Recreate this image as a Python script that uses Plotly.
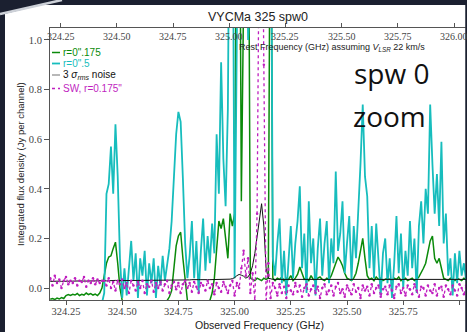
import numpy as np
import plotly.graph_objects as go

# ---------------- data ----------------
f_start = 324.18          # GHz, first channel (observed)
f_step = 0.01             # GHz per channel
v_lsr = 22.0              # km/s
c_kms = 299792.458

cyan_r05 = [
    -0.08, -0.09, -0.07, -0.1, -0.08, -0.09, -0.07, -0.08, -0.1, -0.09,
    -0.08, -0.07, -0.09, -0.08, -0.1, -0.07, -0.08, -0.09, -0.07, -0.08,
    -0.09, -0.08, -0.07, -0.06, -0.02, 0.38, 0.42, 0.57, 0.38, 0.66,
    0.45, 0.12, -0.04, 0.08, -0.03, 0.1, 0.19, 0.03, 0.14, -0.04,
    0.12, 0.05, 0.15, -0.03, 0.1, 0.02, 0.12, -0.04, 0.09, 0.01,
    0.13, 0.03, 0.1, 0.16, 0.27, 0.46, 0.62, 0.71, 0.67, 0.44,
    0.18, 0.04, 0.13, 0.27, 0.04, 0.19, -0.02, 0.15, 0.28, 0.07,
    0.21, 0.1, 0.26, 0.14, 0.62, 0.38, 0.91, 0.52, 0.33, 0.72,
    2.0, 2.0, 0.04, 2.0, 2.0, 2.0, 2.0, 2.0, 1.0, 2.0,
    2.0, 2.0, 2.0, 2.0, 2.0, 2.0, 2.0, 2.0, 2.0, 0.12,
    0.05, 0.18, 0.28, 0.02, 0.15, -0.03, 0.12, 0.25, 0.04, 0.18,
    0.27, 0.41, 0.08, 0.22, -0.02, 0.35, 0.1, 0.2, -0.03, 0.16,
    0.28, 0.05, 0.18, 0.27, 0.02, 0.2, 0.1, 0.47, 0.15, 0.22,
    0.35, 0.06, 0.18, 0.29, 0.03, 0.25, 0.12, 0.3, 0.5, 0.74,
    0.45, 0.37, 0.08, 0.25, 0.04, 0.26, 0.12, -0.03, 0.14, 0.2,
    0.02, 0.12, -0.04, 0.1, 0.29, 0.06, 0.22, 0.0, 0.15, 0.05,
    0.27, 0.08, 0.2, -0.02, 0.25, 0.35, 0.18, 0.4, 0.3, 0.74,
    0.5, 0.3, 0.46, 0.25, 0.59, 0.18, 0.3, 0.05, 0.12, -0.03,
    0.14, 0.02, 0.15, 0.05, 0.1, 0.03,
]

green_r0175 = [
    -0.045, -0.042, -0.046, -0.04, -0.044, -0.038, -0.042, -0.03, -0.026, -0.03,
    -0.025, -0.028, -0.022, -0.03, -0.025, -0.028, -0.02, -0.026, -0.022, -0.028,
    -0.024, -0.03, -0.02, 0.0, 0.05, 0.1, 0.125, 0.13, 0.16, 0.185,
    0.1, 0.0, -0.05, -0.06, -0.06, -0.06, -0.06, -0.06, -0.06, -0.06,
    -0.06, -0.06, -0.06, -0.06, -0.06, -0.06, -0.06, -0.06, -0.06, -0.06,
    -0.06, -0.06, -0.05, -0.035, -0.01, 0.07, 0.17, 0.21, 0.225, 0.12,
    0.02, -0.05, -0.06, -0.06, -0.06, -0.06, -0.06, -0.06, -0.06, -0.06,
    -0.06, -0.05, -0.02, 0.04, 0.15, 0.27, 0.24, 0.28, 0.2, 0.12,
    0.3, 0.25, 0.3, 1.8, 2.2, 0.35, 1.6, 2.0, 2.0, 0.04,
    0.035, 0.03, 0.04, 0.035, 0.03, 0.04, 0.035, 0.04, 2.0, 0.04,
    0.03, 0.04, 0.035, 0.045, 0.03, 0.04, 0.035, 0.05, 0.03, 0.04,
    0.055, 0.085, 0.06, 0.035, 0.04, 0.03, 0.05, 0.035, 0.03, 0.04,
    0.045, 0.035, 0.03, 0.04, 0.035, 0.05, 0.075, 0.1, 0.125, 0.11,
    0.09, 0.06, 0.04, 0.035, 0.03, 0.04, 0.06, 0.1, 0.16, 0.2,
    0.12, 0.05, 0.035, 0.04, 0.03, 0.045, 0.035, 0.04, 0.03, 0.035,
    0.04, 0.035, 0.03, 0.04, 0.035, 0.045, 0.03, 0.035, 0.04, 0.03,
    0.035, 0.04, 0.03, 0.035, 0.045, 0.06, 0.08, 0.1, 0.15, 0.19,
    0.21, 0.12, 0.1, 0.12, 0.08, 0.04, 0.035, 0.03, 0.04, 0.035,
    0.03, 0.04, 0.035, 0.03, 0.04, 0.035,
]

noise_3sigma = [
    0.027, 0.028, 0.027, 0.028, 0.028, 0.027, 0.028, 0.028, 0.029, 0.028,
    0.028, 0.029, 0.028, 0.029, 0.029, 0.028, 0.029, 0.029, 0.03, 0.029,
    0.029, 0.03, 0.029, 0.03, 0.03, 0.029, 0.03, 0.03, 0.03, 0.031,
    0.03, 0.03, 0.031, 0.03, 0.031, 0.031, 0.03, 0.031, 0.031, 0.031,
    0.031, 0.032, 0.031, 0.031, 0.032, 0.032, 0.031, 0.032, 0.032, 0.032,
    0.032, 0.032, 0.033, 0.032, 0.032, 0.033, 0.033, 0.032, 0.033, 0.033,
    0.033, 0.033, 0.033, 0.034, 0.033, 0.033, 0.034, 0.034, 0.033, 0.034,
    0.034, 0.034, 0.034, 0.035, 0.034, 0.035, 0.035, 0.034, 0.035, 0.036,
    0.036, 0.038, 0.042, 0.05, 0.055, 0.052, 0.048, 0.04, 0.045, 0.06,
    0.09, 0.14, 0.2, 0.27, 0.34, 0.25, 0.08, 0.04, 0.036, 0.035,
    0.035, 0.035, 0.034, 0.035, 0.035, 0.034, 0.035, 0.034, 0.034, 0.035,
    0.035, 0.034, 0.035, 0.035, 0.034, 0.035, 0.035, 0.034, 0.035, 0.034,
    0.034, 0.035, 0.035, 0.034, 0.035, 0.035, 0.034, 0.035, 0.034, 0.035,
    0.035, 0.034, 0.035, 0.035, 0.034, 0.035, 0.035, 0.034, 0.035, 0.035,
    0.034, 0.035, 0.035, 0.034, 0.035, 0.034, 0.035, 0.035, 0.034, 0.035,
    0.035, 0.034, 0.035, 0.035, 0.034, 0.035, 0.035, 0.034, 0.035, 0.035,
    0.034, 0.035, 0.035, 0.034, 0.035, 0.035, 0.034, 0.035, 0.035, 0.034,
    0.035, 0.035, 0.034, 0.035, 0.035, 0.034, 0.035, 0.035, 0.034, 0.035,
    0.035, 0.034, 0.035, 0.035, 0.034, 0.035,
]

sw_r0175 = [
    0.04, 0.01, 0.05, 0.02, 0.035, 0.0, 0.03, 0.045, 0.015, 0.03,
    0.02, 0.04, 0.01, 0.03, 0.025, 0.045, 0.005, 0.03, 0.02, 0.04,
    0.015, 0.035, 0.02, 0.03, 0.03, 0.01, 0.04, 0.0, 0.025, -0.01,
    0.03, 0.015, 0.035, 0.0, 0.02, -0.02, 0.03, 0.01, -0.01, 0.025,
    0.0, 0.03, -0.02, 0.015, 0.005, 0.03, -0.015, 0.02, 0.0, 0.025,
    -0.01, 0.015, 0.03, -0.02, 0.01, 0.025, -0.005, 0.02, -0.02, 0.015,
    0.03, 0.0, 0.02, -0.015, 0.025, 0.005, -0.02, 0.02, 0.01, -0.01,
    0.03, 0.0, 0.015, -0.025, 0.02, 0.0, -0.015, 0.025, 0.005, -0.02,
    0.01, 0.03, -0.03, 0.02, 0.0, 0.08, 0.15, 0.05, 0.12, -0.02,
    0.06, -0.05, 0.3, 1.5, 2.0, 0.9, -0.06, 0.1, -0.04, 0.02,
    0.0, -0.03, 0.015, -0.02, 0.005, -0.04, 0.01, -0.01, -0.025, 0.02,
    -0.015, 0.01, -0.035, 0.0, 0.015, -0.03, -0.005, 0.01, -0.02, 0.005,
    -0.04, 0.0, 0.015, -0.025, -0.01, 0.01, -0.03, 0.005, 0.02, -0.02,
    -0.005, -0.035, 0.01, -0.01, -0.025, 0.015, -0.015, 0.0, -0.04, 0.01,
    -0.01, 0.005, -0.03, 0.015, -0.02, 0.0, 0.01, -0.035, -0.005, 0.005,
    -0.025, 0.01, -0.01, -0.04, 0.005, 0.015, -0.02, 0.0, -0.03, 0.01,
    -0.005, -0.025, 0.015, -0.01, -0.035, 0.005, 0.0, -0.03, 0.01, -0.01,
    -0.02, 0.015, -0.03, 0.0, 0.005, -0.035, 0.01, -0.005, -0.025, 0.01,
    -0.01, -0.03, 0.015, 0.0, -0.025, 0.01,
]

tick_vals = [324.25, 324.50, 324.75, 325.00, 325.25, 325.50, 325.75, 326.00]
tick_text = ["324.25", "324.50", "324.75", "325.00", "325.25", "325.50", "325.75", "326.00"]
y_tick_vals = [0.0, 0.2, 0.4, 0.6, 0.8, 1.0]
y_tick_text = ["0.0", "0.2", "0.4", "0.6", "0.8", "1.0"]

legend_labels = ["r=0\".175", "r=0\".5", "3 <i>σ<sub>rms</sub></i> noise", "SW, r=0.175\""]

freq = f_start + f_step * np.arange(len(cyan_r05))

# ---------------- layout geometry ----------------
W, H = 467, 332
L, R, T, B = 50, 0, 28, 32
PW, PH = W - L - R, H - T - B

def px(x):
    return (x - L) / PW

def py(y):
    return (H - B - y) / PH

x_range = [324.1788, 326.0338]
y_range = [-0.048, 1.048]
doppler = 1.0 + v_lsr / c_kms
x2_range = [x_range[0] * doppler, x_range[1] * doppler]

GREEN = "#0a8a0a"
CYAN = "#17bdbd"
MAG = "#bf1fbf"
GRAY = "#888888"
BG = "#1b2030"

fig = go.Figure()
fig.add_trace(go.Scatter(x=freq, y=green_r0175, mode="lines",
                         line=dict(color=GREEN, width=1.5), showlegend=False))
fig.add_trace(go.Scatter(x=freq, y=cyan_r05, mode="lines",
                         line=dict(color=CYAN, width=1.8), showlegend=False))
fig.add_trace(go.Scatter(x=freq, y=noise_3sigma, mode="lines",
                         line=dict(color="#111111", width=1), showlegend=False))
fig.add_trace(go.Scatter(x=freq, y=sw_r0175, mode="lines+markers",
                         line=dict(color=MAG, width=1.3, dash="dot"),
                         marker=dict(color=MAG, size=2.5), showlegend=False))
fig.add_trace(go.Scatter(x=[x2_range[0]], y=[None], xaxis="x2", mode="lines",
                         showlegend=False, hoverinfo="skip"))

serif = "Liberation Serif, DejaVu Serif, serif"
sans = "Liberation Sans, Arial, sans-serif"

fig.update_layout(
    width=W, height=H,
    margin=dict(l=L, r=R, t=T, b=B, pad=0),
    paper_bgcolor=BG,
    plot_bgcolor="rgba(0,0,0,0)",
    showlegend=False,
    xaxis=dict(range=x_range, tickvals=tick_vals, ticktext=tick_text,
               showgrid=False, zeroline=False, showline=True, linecolor="#555555",
               linewidth=1, ticks="outside", ticklen=4, tickcolor="#555555",
               ticklabelstandoff=-3,
               tickfont=dict(family=serif, size=10.5, color="#444444")),
    xaxis2=dict(range=x2_range, overlaying="x", side="top", anchor="y",
                tickvals=tick_vals, showticklabels=False,
                showgrid=False, zeroline=False, showline=True, linecolor="#555555",
                linewidth=1, ticks="outside", ticklen=4, tickcolor="#555555"),
    yaxis=dict(range=y_range, tickvals=y_tick_vals, ticktext=y_tick_text,
               showgrid=False, zeroline=False, showline=True, linecolor="#555555",
               linewidth=1, ticks="outside", ticklen=5, tickcolor="#555555",
               tickfont=dict(family=serif, size=10.5, color="#444444")),
)

shapes = []
# white slide card
shapes.append(dict(type="rect", xref="paper", yref="paper", layer="below",
                   x0=px(5), x1=px(465.5), y0=py(332), y1=py(5),
                   fillcolor="white", line=dict(width=0)))
# dark right strip over the plot edge
shapes.append(dict(type="rect", xref="paper", yref="paper", layer="above",
                   x0=px(465.5), x1=px(468), y0=py(333), y1=py(0),
                   fillcolor=BG, line=dict(width=0)))
# top-left corner streak
shapes.append(dict(type="path", xref="paper", yref="paper", layer="above",
                   path=f"M {px(0)} {py(0)} L {px(62)} {py(0)} L {px(0)} {py(15)} Z",
                   fillcolor=BG, line=dict(width=0)))
shapes.append(dict(type="line", xref="paper", yref="paper", layer="above",
                   x0=px(0), y0=py(14), x1=px(62), y1=py(0),
                   line=dict(color="#cdd1d8", width=2.5)))

# manual legend
leg_rows = [(52.5, GREEN, "solid", 1.5), (63.5, CYAN, "solid", 1.8),
            (75, GRAY, "solid", 1.2), (88.5, MAG, "dot", 1.5)]
leg_text_colors = [GREEN, CYAN, "#111111", MAG]
annotations = []
for (yy, col, dash, lw), lab, tcol in zip(leg_rows, legend_labels, leg_text_colors):
    shapes.append(dict(type="line", xref="paper", yref="paper", layer="above",
                       x0=px(52), x1=px(60), y0=py(yy), y1=py(yy),
                       line=dict(color=col, width=lw, dash=dash)))
    annotations.append(dict(xref="paper", yref="paper", x=px(61), y=py(yy),
                            xanchor="left", yanchor="middle", showarrow=False,
                            text=lab, font=dict(family=sans, size=10, color=tcol)))

# top (rest-frequency) tick labels, drawn inside the axes
for tv, tt in zip(tick_vals, tick_text):
    annotations.append(dict(xref="x2", yref="paper", x=tv, y=py(36),
                            xanchor="center", yanchor="middle", showarrow=False,
                            text=tt, font=dict(family=serif, size=10, color="#444444")))

annotations += [
    dict(xref="paper", yref="paper", x=px(258), y=py(17), showarrow=False,
         xanchor="center", yanchor="middle", text="VYCMa 325 spw0",
         font=dict(family=sans, size=12.5, color="#222222")),
    dict(xref="paper", yref="paper", x=px(237), y=py(48), showarrow=False,
         xanchor="left", yanchor="middle",
         text="Rest Frequency (GHz) assuming <i>V</i><sub><i>LSR</i></sub> 22 km/s",
         font=dict(family=sans, size=9, color="#222222")),
    dict(xref="paper", yref="paper", x=px(259), y=py(325), showarrow=False,
         xanchor="center", yanchor="middle", text="Observed Frequency (GHz)",
         font=dict(family=sans, size=10.5, color="#222222")),
    dict(xref="paper", yref="paper", x=px(20), y=py(164), showarrow=False,
         xanchor="center", yanchor="middle", textangle=-90,
         text="Integrated flux density (Jy per channel)",
         font=dict(family=sans, size=9.5, color="#222222")),
    dict(xref="paper", yref="paper", x=px(352), y=py(73), showarrow=False,
         xanchor="left", yanchor="middle", text="spw 0",
         font=dict(family="Open Sans", size=28, color="#111111")),
    dict(xref="paper", yref="paper", x=px(351), y=py(116), showarrow=False,
         xanchor="left", yanchor="middle", text="zoom",
         font=dict(family="Open Sans", size=28, color="#111111")),
]

fig.update_layout(shapes=shapes, annotations=annotations)
fig.write_html("out.html")
